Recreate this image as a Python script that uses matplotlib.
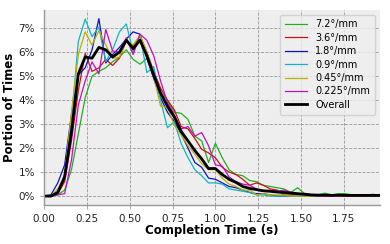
import matplotlib
matplotlib.use("Agg")
import matplotlib.pyplot as plt
import numpy as np
from matplotlib.ticker import FuncFormatter

# completion time bins (s)
times = [round(0.04 * i, 2) for i in range(50)]

# portion of times (%) per rotation rate
green_72 = [0, 0, 0.05, 0.25, 1.1, 2.6, 4.1, 5.0, 5.2, 5.35, 5.6, 5.8, 6.1, 5.7, 5.5, 5.75, 5.0, 4.3, 4.0, 3.5,
            3.45, 3.2, 2.5, 2.3, 1.4, 2.2, 1.6, 1.1, 0.9, 0.85, 0.65, 0.6, 0.45, 0.4, 0.35, 0.3, 0.15, 0.35, 0.1, 0.05,
            0.05, 0.12, 0.05, 0.1, 0.1, 0.05, 0.0, 0.0, 0.08, 0.0]
red_36 = [0, 0, 0.1, 0.6, 2.3, 4.4, 5.95, 5.2, 5.35, 5.7, 5.45, 5.75, 6.5, 6.25, 6.7, 6.0, 5.2, 4.5, 4.0, 3.6,
          2.9, 2.8, 2.4, 1.95, 1.8, 1.6, 1.2, 1.0, 0.9, 0.7, 0.45, 0.55, 0.45, 0.3, 0.25, 0.05, 0.05, 0.1, 0.05, 0.0,
          0, 0, 0, 0, 0, 0, 0, 0, 0, 0]
blue_18 = [0, 0.05, 0.55, 1.3, 3.4, 5.05, 5.35, 6.1, 7.4, 5.55, 5.9, 6.2, 6.55, 6.85, 6.75, 5.75, 4.9, 4.1, 3.5, 3.1,
           2.6, 2.0, 1.4, 1.2, 0.75, 0.7, 0.55, 0.4, 0.35, 0.25, 0.15, 0.1, 0.1, 0.05, 0.0, 0.0, 0.0, 0.0, 0.0, 0.0,
           0, 0, 0, 0, 0, 0, 0, 0, 0, 0]
cyan_09 = [0, 0, 0.2, 0.9, 3.2, 6.45, 7.38, 6.65, 7.05, 5.6, 6.1, 6.85, 7.18, 6.0, 6.7, 5.15, 5.4, 4.0, 2.85, 3.1,
           2.2, 1.6, 1.1, 0.85, 0.55, 0.55, 0.5, 0.3, 0.25, 0.2, 0.15, 0.05, 0.05, 0.0, 0.0, 0.0, 0.0, 0.0, 0.0, 0.0,
           0, 0, 0, 0, 0, 0, 0, 0, 0, 0]
yellow_045 = [0, 0, 0.3, 0.8, 3.5, 5.9, 6.85, 6.3, 6.9, 6.3, 5.75, 5.8, 6.45, 6.3, 6.7, 6.0, 5.0, 3.75, 3.7, 2.95,
              2.55, 2.1, 1.75, 1.35, 1.1, 1.1, 0.75, 0.5, 0.4, 0.25, 0.25, 0.05, 0.1, 0.05, 0.05, 0.05, 0.0, 0.0, 0.0, 0.0,
              0, 0, 0, 0, 0, 0, 0, 0, 0, 0]
magenta_0225 = [0, 0, 0.05, 0.1, 1.5, 3.8, 4.8, 5.6, 5.1, 6.95, 6.05, 6.0, 6.6, 5.9, 6.75, 6.5, 5.85, 4.8, 3.9, 3.4,
                2.8, 2.9, 2.5, 2.65, 2.1, 1.3, 1.25, 0.8, 0.6, 0.5, 0.45, 0.3, 0.2, 0.25, 0.2, 0.25, 0.15, 0.1, 0.05, 0.05,
                0, 0, 0, 0, 0, 0, 0, 0, 0, 0]
overall = [0, 0, 0.15, 0.8, 2.7, 5.1, 5.8, 5.75, 6.2, 6.1, 5.8, 6.0, 6.5, 6.15, 6.5, 5.85, 5.05, 4.3, 3.75, 3.3,
           2.7, 2.3, 1.9, 1.55, 1.15, 1.15, 0.9, 0.7, 0.57, 0.4, 0.32, 0.27, 0.22, 0.2, 0.17, 0.15, 0.13, 0.1, 0.08, 0.05,
           0.04, 0.04, 0.03, 0.04, 0.03, 0.03, 0.03, 0.03, 0.03, 0.03]

series = [
    ("7.2°/mm", green_72, "#22b022"),
    ("3.6°/mm", red_36, "#cc1111"),
    ("1.8°/mm", blue_18, "#1111c8"),
    ("0.9°/mm", cyan_09, "#11b5bd"),
    ("0.45°/mm", yellow_045, "#bbb000"),
    ("0.225°/mm", magenta_0225, "#c011c0"),
]

plt.rcParams["font.family"] = "DejaVu Sans"
fig = plt.figure(figsize=(3.9, 2.44), dpi=100)
ax = fig.add_axes([0.113, 0.16, 0.861, 0.80])
ax.set_facecolor("#eeeeee")

for label, vals, color in series:
    ax.plot(times, np.array(vals) / 100, color=color, lw=0.9, label=label)
ax.plot(times, np.array(overall) / 100, color="black", lw=2.0, label="Overall")

ax.set_xlim(0, 1.96)
ax.set_xticks([0, 0.25, 0.5, 0.75, 1.0, 1.25, 1.5, 1.75])
ax.xaxis.set_major_formatter(FuncFormatter(lambda v, p: f"{v:.2f}"))
ax.set_yticks([i / 100 for i in range(8)])
ax.yaxis.set_major_formatter(FuncFormatter(lambda v, p: f"{v * 100:.0f}%"))
ax.tick_params(labelsize=7.5, colors="#222222", length=3, width=0.6)
ax.tick_params(axis="both", color="#999999")

ax.grid(True, linestyle="--", color="#999999", linewidth=0.6)
ax.set_axisbelow(True)
for side in ["top", "right"]:
    ax.spines[side].set_visible(False)
for side in ["left", "bottom"]:
    ax.spines[side].set_color("#999999")
    ax.spines[side].set_linewidth(1.0)

ax.set_xlabel("Completion Time (s)", fontsize=8.5, fontweight="bold", labelpad=0)
ax.set_ylabel("Portion of Times", fontsize=8.5, fontweight="bold", labelpad=2)

leg = ax.legend(loc="upper right", fontsize=7, frameon=True, fancybox=True,
                handlelength=2.3, labelspacing=0.35, borderpad=0.5)
leg.get_frame().set_facecolor("#eeeeee")
leg.get_frame().set_edgecolor("#cccccc")

fig.savefig("out.png", dpi=100)
